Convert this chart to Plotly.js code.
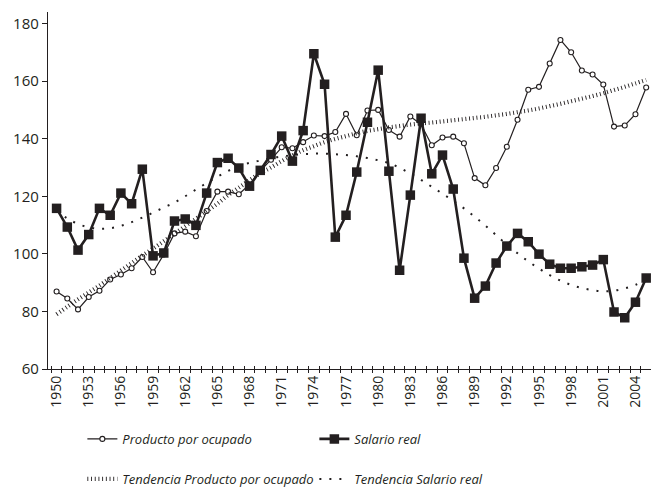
<!DOCTYPE html>
<html>
<head>
<meta charset="utf-8">
<script src="https://cdn.plot.ly/plotly-3.0.1.min.js"></script>
<style>
  html, body { margin: 0; padding: 0; background: #ffffff; }
  #chart { width: 651px; height: 494px; }
</style>
</head>
<body>
<div id="chart"></div>
<script>
// ---- Data ----
const years = [1950,1951,1952,1953,1954,1955,1956,1957,1958,1959,
               1960,1961,1962,1963,1964,1965,1966,1967,1968,1969,
               1970,1971,1972,1973,1974,1975,1976,1977,1978,1979,
               1980,1981,1982,1983,1984,1985,1986,1987,1988,1989,
               1990,1991,1992,1993,1994,1995,1996,1997,1998,1999,
               2000,2001,2002,2003,2004,2005];

const productoPorOcupado = [86.9,84.5,80.7,85.0,87.2,91.1,92.8,95.0,98.9,93.6,
                            99.8,107.1,107.7,106.1,114.9,121.6,121.6,120.7,124.1,128.7,
                            132.7,137.0,136.7,138.8,141.1,140.9,142.3,148.6,141.2,149.8,
                            150.0,143.0,140.7,147.7,145.0,137.7,140.4,140.7,138.4,126.3,
                            123.8,129.8,137.2,146.6,157.0,158.0,166.1,174.3,170.0,163.7,
                            162.3,158.8,144.2,144.6,148.5,157.8];

const salarioReal = [115.8,109.3,101.3,106.7,115.8,113.4,121.1,117.4,129.4,99.3,
                     100.3,111.4,112.1,109.9,121.1,131.7,133.2,129.8,123.5,129.0,
                     134.5,140.9,132.2,142.8,169.5,158.9,105.8,113.4,128.4,145.7,
                     163.8,128.7,94.3,120.4,147.1,127.8,134.3,122.5,98.5,84.6,
                     88.8,96.8,102.7,107.1,104.2,99.9,96.4,95.0,95.0,95.5,
                     96.1,98.0,79.8,77.8,83.2,91.6];

const tendenciaProducto = [79.0,81.6,84.2,86.6,89.0,91.6,94.2,96.8,99.4,101.8,
                           104.4,107.0,109.6,112.2,114.8,117.4,120.4,123.0,125.6,128.0,
                           130.0,132.2,134.2,136.0,137.4,138.8,139.9,140.9,141.9,142.7,
                           143.3,143.9,144.4,144.9,145.3,145.6,146.0,146.4,146.8,147.2,
                           147.6,148.1,148.6,149.2,149.8,150.5,151.3,152.1,153.0,153.9,
                           154.8,155.8,156.9,158.0,159.2,160.4];

const tendenciaSalario = [115.0,112.3,110.4,109.2,108.7,108.9,109.7,111.0,112.6,114.3,
                          116.1,117.8,120.0,122.3,124.6,126.8,128.8,130.4,131.6,132.4,
                          133.2,133.8,134.3,134.6,134.8,134.8,134.6,134.3,133.9,133.3,
                          132.5,131.5,129.9,127.9,125.7,123.3,120.9,118.4,115.8,112.9,
                          109.8,106.5,103.2,100.2,97.4,94.9,92.6,90.7,89.2,88.1,
                          87.4,87.0,87.2,88.0,89.2,91.0];

const xTickYears = [1950,1953,1956,1959,1962,1965,1968,1971,1974,1977,1980,1983,1986,1989,1992,1995,1998,2001,2004];
const xTickLabels = ['1950','1953','1956','1959','1962','1965','1968','1971','1974','1977','1980','1983','1986','1989','1992','1995','1998','2001','2004'];
const yTickValues = [60,80,100,120,140,160,180];

const names = ['Producto por ocupado','Salario real','Tendencia Producto por ocupado','Tendencia Salario real'];

// ---- Styling ----
const ink = '#231f20';
const fontFam = '"Open Sans", "Noto Sans", sans-serif';

const traces = [
  {
    x: years, y: tendenciaProducto, name: names[2], type: 'scatter', mode: 'lines',
    line: {color: ink, width: 4.2, dash: '0.9px,2.8px', shape: 'spline'},
    legend: 'legend2', legendrank: 1, xaxis: 'x2'
  },
  {
    x: years, y: tendenciaSalario, name: names[3], type: 'scatter', mode: 'lines',
    line: {color: ink, width: 2, dash: '2px,8px', shape: 'spline'},
    legend: 'legend2', legendrank: 2
  },
  {
    x: years, y: productoPorOcupado, name: names[0], type: 'scatter', mode: 'lines+markers',
    line: {color: ink, width: 1.2},
    marker: {symbol: 'circle', size: 5, color: '#ffffff', line: {color: ink, width: 1.1}},
    legend: 'legend', legendrank: 1
  },
  {
    x: years, y: salarioReal, name: names[1], type: 'scatter', mode: 'lines+markers',
    line: {color: ink, width: 2.6},
    marker: {symbol: 'square', size: 9.5, color: ink},
    legend: 'legend', legendrank: 2
  }
];

const xRange = [1949.2, 2005.45];

const layout = {
  width: 651, height: 494,
  margin: {l: 48, r: 0, t: 12, b: 125},
  paper_bgcolor: '#ffffff', plot_bgcolor: '#ffffff',
  font: {family: fontFam, color: ink},
  showlegend: true,
  xaxis: {
    range: xRange, type: 'linear',
    tickmode: 'array', tickvals: xTickYears, ticktext: xTickLabels,
    tickangle: -90, ticks: '', tickfont: {size: 14, color: ink, family: fontFam},
    showline: true, linecolor: ink, linewidth: 1.2,
    showgrid: false, zeroline: false,
    minor: {tick0: 1949.5, dtick: 1, ticks: 'outside', ticklen: 3, tickwidth: 1, tickcolor: ink, showgrid: false}
  },
  xaxis2: {
    range: xRange, type: 'linear', overlaying: 'x', anchor: 'y', side: 'bottom',
    tick0: 1949.5, dtick: 1, ticks: 'inside', ticklen: 3, tickwidth: 1, tickcolor: ink,
    showticklabels: false, showline: false, showgrid: false, zeroline: false
  },
  yaxis: {
    range: [60, 184], tickmode: 'array', tickvals: yTickValues,
    ticks: 'outside', ticklen: 5, tickwidth: 1, tickcolor: ink,
    tickfont: {size: 15, color: ink, family: fontFam},
    showline: true, linecolor: ink, linewidth: 1.2,
    showgrid: false, zeroline: false
  },
  legend: {
    orientation: 'h', x: 0.057, xanchor: 'left', y: -0.196, yanchor: 'middle',
    font: {size: 13, color: ink, family: fontFam, style: 'italic'},
    entrywidth: 187, entrywidthmode: 'pixels', bgcolor: 'rgba(0,0,0,0)'
  },
  legend2: {
    orientation: 'h', x: 0.057, xanchor: 'left', y: -0.308, yanchor: 'middle',
    font: {size: 13, color: ink, family: fontFam, style: 'italic'},
    entrywidth: 187, entrywidthmode: 'pixels', bgcolor: 'rgba(0,0,0,0)'
  }
};

Plotly.newPlot('chart', traces, layout, {staticPlot: true, displayModeBar: false});
</script>
</body>
</html>
